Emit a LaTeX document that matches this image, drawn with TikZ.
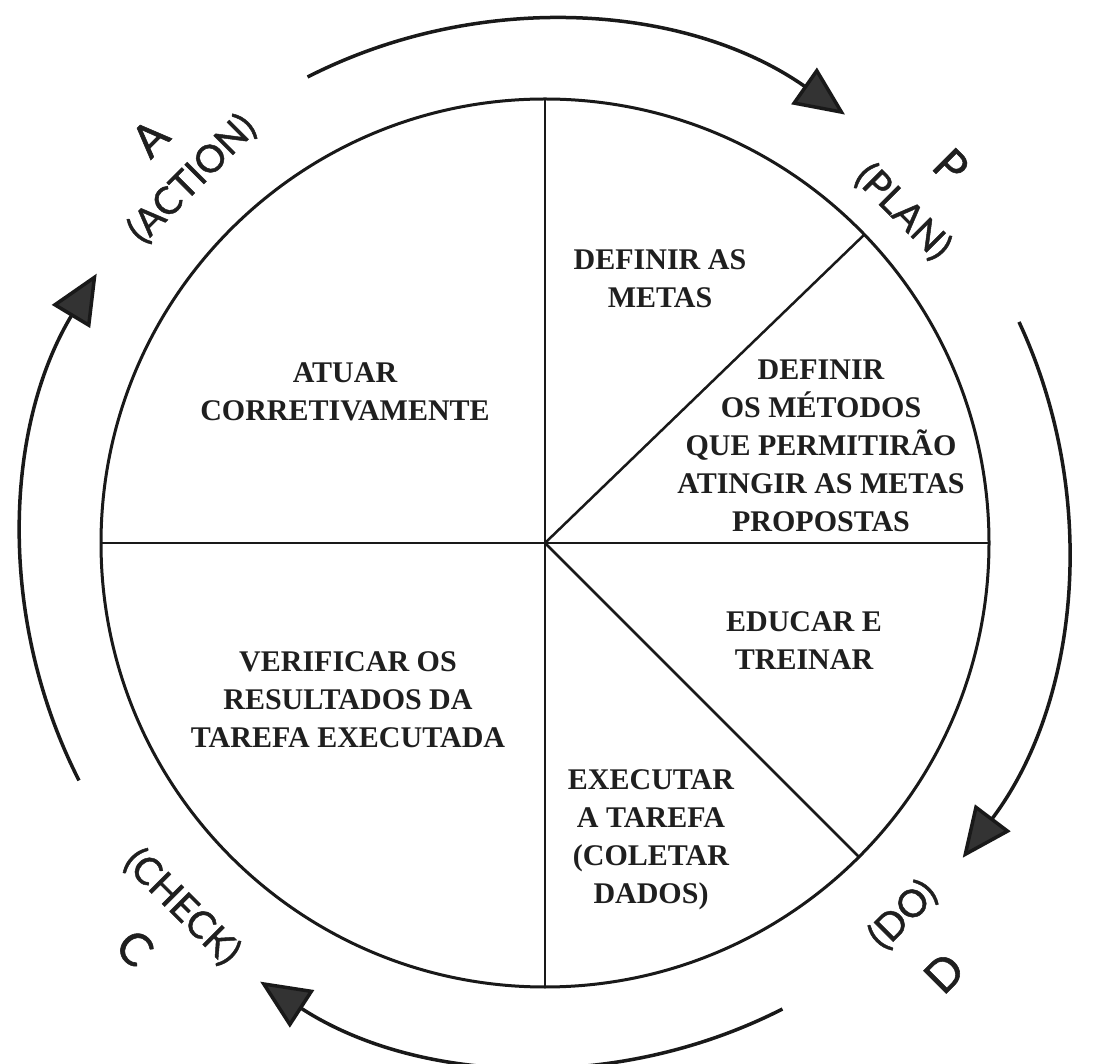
\documentclass[tikz,border=0pt]{standalone}
\usepackage{fontspec}
\setmainfont{Liberation Serif}
\newfontfamily\lblfont[FakeBold=1.2]{Lato}
\usetikzlibrary{arrows.meta,calc}
\begin{document}
\begin{tikzpicture}[x=1pt,y=1pt,
  inner/.style={font=\bfseries\fontsize{30}{38}\selectfont, align=center, inner sep=0pt, text=black!88},
  biglet/.style={font=\lblfont\fontsize{45}{45}\selectfont, inner sep=0pt, text=black!88},
  word/.style={font=\lblfont\fontsize{38}{38}\selectfont, inner sep=0pt, text=black!88},
  rim/.style={line width=3pt, draw=black!90},
  divider/.style={line width=2.5pt, draw=black!90},
  cyc/.style={line width=3.5pt, draw=black!90, -{Triangle[length=50pt,width=44pt,fill=black!80]}}
]
\useasboundingbox[fill=white] (0,0) rectangle (1118,1063);
\coordinate (O) at (545,520);
% circle and dividers
\draw[rim] (O) circle[radius=444];
\coordinate (Ntop) at ($(O)+(90:444)$);
\coordinate (Nbot) at ($(O)+(270:444)$);
\coordinate (Wl) at ($(O)+(180:444)$);
\coordinate (Er) at ($(O)+(0:444)$);
\coordinate (NE) at ($(O)+(44:444)$);
\coordinate (SE) at ($(O)+(-45:444)$);
\draw[divider] (Ntop) -- (Nbot);
\draw[divider] (Wl) -- (Er);
\draw[divider] (O) -- (NE);
\draw[divider] (O) -- (SE);
% outer cycle arrows
\coordinate (a1) at ($(O)+(117:523)$);
\coordinate (a2) at ($(O)+(25:523)$);
\coordinate (a3) at ($(O)+(-63:523)$);
\coordinate (a4) at ($(O)+(207:523)$);
\draw[cyc] (a1) arc[start angle=117, end angle=55, radius=523];
\draw[cyc] (a2) arc[start angle=25, end angle=-37, radius=523];
\draw[cyc] (a3) arc[start angle=-63, end angle=-123, radius=523];
\draw[cyc] (a4) arc[start angle=207, end angle=149, radius=523];
% outer labels
\node[biglet, rotate=45] (lA) at (150,925) {A};
\node[word, rotate=45] (lAction) at (192,884) {(ACTION)};
\node[biglet, rotate=-45] (lP) at (951,897) {P};
\node[word, rotate=-45] (lPlan) at (903,851) {(PLAN)};
\node[word, rotate=45] (lDo) at (903,148) {(DO)};
\node[biglet, rotate=45] (lD) at (944,90) {D};
\node[word, rotate=-45] (lCheck) at (182,156) {(CHECK)};
\node[biglet, rotate=-45] (lC) at (135,115) {C};
% inner texts
\node[inner] (atuar) at (345,671) {ATUAR\\CORRETIVAMENTE};
\node[inner] (metas) at (660,784) {DEFINIR AS\\METAS};
\node[inner] (metodos) at (821,617) {DEFINIR\\OS MÉTODOS\\QUE PERMITIRÃO\\ATINGIR AS METAS\\PROPOSTAS};
\node[inner] (educar) at (804,422) {EDUCAR E\\TREINAR};
\node[inner] (executar) at (651,223) {EXECUTAR\\A TAREFA\\(COLETAR\\DADOS)};
\node[inner] (verificar) at (348,363) {VERIFICAR OS\\RESULTADOS DA\\TAREFA EXECUTADA};
\end{tikzpicture}
\end{document}
